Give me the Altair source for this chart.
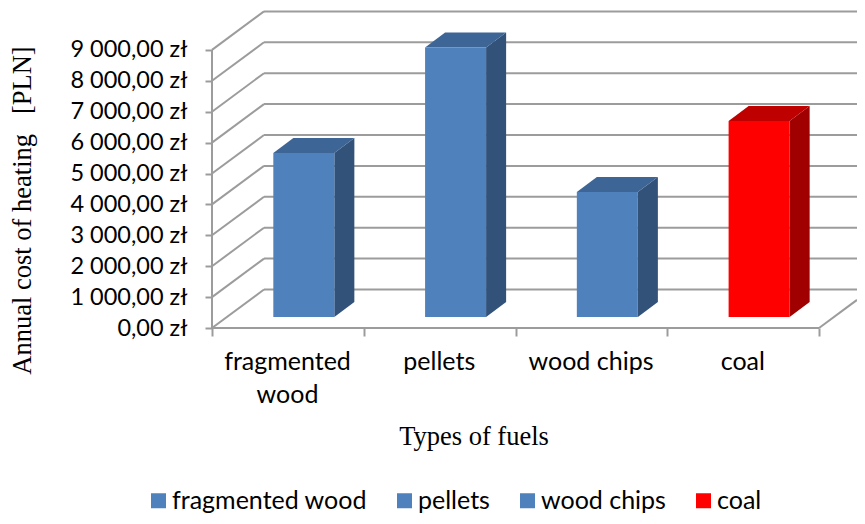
import json
import altair as alt
import pandas as pd

# values
fuels = ["fragmented wood", "pellets", "wood chips", "coal"]
costs = [5310, 8720, 4045, 6345]
tick_values = [0, 1000, 2000, 3000, 4000, 5000, 6000, 7000, 8000, 9000]
category_labels = [["fragmented", "wood"], ["pellets"], ["wood chips"], ["coal"], [""]]

# styles
front_colors = ["#4F81BD", "#4F81BD", "#4F81BD", "#FF0000"]
top_colors = ["#3D6595", "#3D6595", "#3D6595", "#BF0000"]
side_colors = ["#32527A", "#32527A", "#32527A", "#A00000"]
GRID = "#9C9C9C"
LABEL_FONT = "Lato"
TITLE_FONT = "Liberation Serif"

# oblique projection, in axis units
WALL_DX, WALL_DY = 0.3427, 1246
BAR_LEFT, BAR_W = 0.404, 0.402
BAR_BASE = 356
BAR_DX, BAR_DY = 0.132, 485
N = len(fuels)
X_MAX, Y_MAX = 4.25, 10356

xs = alt.Scale(domain=[0, X_MAX], nice=False, zero=False)
ys = alt.Scale(domain=[0, Y_MAX], nice=False, zero=False)

# frame
rules = []
for v in tick_values:
    rules.append(dict(x=0, x2=WALL_DX, y=v, y2=v + WALL_DY))
    rules.append(dict(x=WALL_DX, x2=X_MAX, y=v + WALL_DY, y2=v + WALL_DY))
rules.append(dict(x=0, x2=0, y=0, y2=tick_values[-1]))
rules.append(dict(x=0, x2=N, y=0, y2=0))
rules.append(dict(x=N, x2=X_MAX, y=0, y2=WALL_DY * (X_MAX - N) / WALL_DX))

front, side, top = [], [], []
for i, (f, c) in enumerate(zip(fuels, costs)):
    l = i + BAR_LEFT
    r = l + BAR_W
    t = BAR_BASE + c
    front.append(dict(fuel=f, x=l, x2=r, y=BAR_BASE, y2=t))
    side.append(dict(fuel=f, col=side_colors[i], x=r, y=BAR_BASE, y2=t))
    side.append(dict(fuel=f, col=side_colors[i], x=r + BAR_DX, y=BAR_BASE + BAR_DY, y2=t + BAR_DY))
    top.append(dict(fuel=f, col=top_colors[i], x=l, x2=r, y=t))
    top.append(dict(fuel=f, col=top_colors[i], x=l + BAR_DX, x2=r + BAR_DX, y=t + BAR_DY))

label_expr = f"{json.dumps(category_labels)}[datum.value]"
y_expr = "replace(replace(format(datum.value, ',.2f'), ',', ' '), '.', ',') + ' zł'"

x_axis = alt.Axis(
    values=list(range(N + 1)), domain=False, grid=False,
    tickColor=GRID, tickWidth=2, tickSize=8,
    labelExpr=label_expr, labelOffset=75, labelAngle=0, labelPadding=13,
    labelFont=LABEL_FONT, labelFontSize=25, labelColor="#000000", labelLineHeight=33,
    labelOverlap=False, labelBound=False, labelFlush=False, labelAlign="center", labelBaseline="top",
    title="Types of fuels", titleFont=TITLE_FONT, titleFontSize=26.5, titleFontWeight="normal",
    titleColor="#000000", titleX=261.5, titleY=108, titleAnchor="middle", titleAlign="center", titleBaseline="middle",
)
y_axis = alt.Axis(
    values=tick_values, domain=False, grid=False,
    tickColor=GRID, tickWidth=2, tickSize=7,
    labelExpr=y_expr, labelPadding=18, labelFont=LABEL_FONT, labelFontSize=23.5, labelColor="#000000",
    labelOverlap=False, labelBound=False, labelFlush=False,
    title="Annual cost of heating\u00a0\u00a0\u00a0[PLN]", titleFont=TITLE_FONT, titleFontSize=26.5, titleFontWeight="normal",
    titleColor="#000000", titleX=-190, titleY=202, titleAngle=270, titleAlign="center", titleBaseline="middle",
)

frame = alt.Chart(pd.DataFrame(rules)).mark_rule(color=GRID, strokeWidth=2).encode(
    x=alt.X("x:Q", scale=xs, axis=x_axis),
    x2="x2:Q",
    y=alt.Y("y:Q", scale=ys, axis=y_axis),
    y2="y2:Q",
)

front_layer = alt.Chart(pd.DataFrame(front)).mark_rect().encode(
    x=alt.X("x:Q", scale=xs, axis=x_axis),
    x2="x2:Q",
    y=alt.Y("y:Q", scale=ys, axis=y_axis),
    y2="y2:Q",
    color=alt.Color(
        "fuel:N",
        scale=alt.Scale(domain=fuels, range=front_colors),
        legend=alt.Legend(
            title=None, orient="none", legendX=-66, legendY=480, direction="horizontal", columns=4,
            symbolType="square", symbolSize=225, symbolStrokeWidth=0, columnPadding=25,
            labelFont=LABEL_FONT, labelFontSize=25, labelColor="#000000", labelOffset=1, labelLimit=300,
        ),
    ),
)

side_layer = alt.Chart(pd.DataFrame(side)).mark_area(orient="vertical").encode(
    x=alt.X("x:Q", scale=xs, axis=x_axis),
    y=alt.Y("y:Q", scale=ys, axis=y_axis, stack=None),
    y2="y2:Q",
    detail="fuel:N",
    fill=alt.Fill("col:N", scale=None),
)

top_layer = alt.Chart(pd.DataFrame(top)).mark_area(orient="horizontal").encode(
    x=alt.X("x:Q", scale=xs, axis=x_axis, stack=None),
    x2="x2:Q",
    y=alt.Y("y:Q", scale=ys, axis=y_axis),
    detail="fuel:N",
    fill=alt.Fill("col:N", scale=None),
)

chart = alt.layer(frame, side_layer, top_layer, front_layer).properties(
    width=645, height=320,
    padding={"left": 204, "top": 0, "right": 0, "bottom": 188},
    autosize=alt.AutoSizeParams(type="none"),
    background="#FFFFFF",
).configure_view(stroke=None)

chart.save("out.html", embed_options={"renderer": "svg", "actions": False})
